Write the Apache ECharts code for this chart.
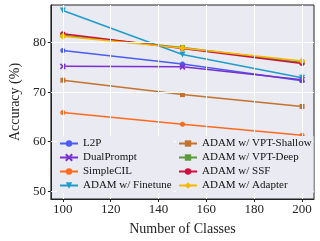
<!DOCTYPE html>
<html>
<head>
<meta charset="utf-8">
<script src="https://cdn.jsdelivr.net/npm/echarts@6/dist/echarts.min.js"></script>
<style>
html, body { margin: 0; padding: 0; background: #fff; }
#chart { width: 320px; height: 241px; }
</style>
</head>
<body>
<div id="chart"></div>
<script>
// number of classes
const classes = [100, 150, 200]
const xTicks = [100, 120, 140, 160, 180, 200]
const yTicks = [50, 60, 70, 80]

// accuracy (%) per method
const l2p = [78.4, 75.7, 72.3]
const dualPrompt = [75.2, 75.1, 72.5]
const simpleCIL = [65.9, 63.5, 61.3]
const finetune = [86.5, 77.6, 72.9]
const vptShallow = [72.4, 69.5, 67.1]
const vptDeep = [81.5, 79.0, 76.0]
const ssf = [81.8, 78.8, 75.8]
const adapter = [81.3, 78.9, 76.3]

const chart = echarts.init(document.getElementById('chart'))

const serif = 'Liberation Serif'

function line(name, values, color, symbol, size) {
    return {
        name: name,
        type: 'line',
        z: 3,
        data: classes.map((c, i) => [c, values[i]]),
        symbol: symbol,
        symbolSize: size || 5,
        lineStyle: { color: color, width: 1.5 },
        itemStyle: { color: color },
        emphasis: { disabled: true }
    }
}

const series = [
    // white grid lines drawn through the axes
    {
        type: 'line',
        data: [],
        z: 1,
        silent: true,
        markLine: {
            silent: true,
            symbol: 'none',
            label: { show: false },
            lineStyle: { color: '#ffffff', type: 'solid', width: 1 },
            data: xTicks.map(v => ({ xAxis: v })).concat(yTicks.map(v => ({ yAxis: v })))
        }
    },
    line('L2P', l2p, '#4a5df0', 'circle'),
    line('DualPrompt', dualPrompt, '#7a2fcf', 'path://M0,0L2,2M2,0L0,2', 5),
    line('SimpleCIL', simpleCIL, '#ff6a1c', 'circle'),
    line('ADAM w/ Finetune', finetune, '#1f9ccc', 'triangle', 6),
    line('ADAM w/ VPT-Shallow', vptShallow, '#c4732f', 'rect', 5),
    line('ADAM w/ VPT-Deep', vptDeep, '#5a9a3a', 'rect', 5),
    line('ADAM w/ SSF', ssf, '#d0103c', 'circle'),
    line('ADAM w/ Adapter', adapter, '#f6b800', 'diamond', 7)
]
// down-pointing triangle for finetune
series[4].symbolRotate = 180
// x marker needs a stroke
series[2].itemStyle = { color: '#7a2fcf', borderColor: '#7a2fcf', borderWidth: 1.5 }

const legendCommon = {
    orient: 'vertical',
    itemWidth: 18,
    itemHeight: 8,
    itemGap: 3,
    textStyle: { fontFamily: serif, fontSize: 11, color: '#111' },
    backgroundColor: '#eaeaf2',
    padding: 2,
    z: 10
}

const option = {
    animation: false,
    backgroundColor: '#ffffff',
    grid: {
        left: 50, right: 6, top: 5, bottom: 40,
        show: true,
        backgroundColor: '#eaeaf2',
        borderColor: '#222',
        borderWidth: 1
    },
    legend: [
        Object.assign({}, legendCommon, {
            left: 57, top: 136,
            data: ['L2P', 'DualPrompt', 'SimpleCIL', 'ADAM w/ Finetune']
        }),
        Object.assign({}, legendCommon, {
            left: 176, top: 136,
            data: ['ADAM w/ VPT-Shallow', 'ADAM w/ VPT-Deep', 'ADAM w/ SSF', 'ADAM w/ Adapter']
        })
    ],
    xAxis: {
        type: 'value',
        min: 95,
        max: 205,
        name: 'Number of Classes',
        nameLocation: 'middle',
        nameGap: 23,
        nameTextStyle: { fontFamily: serif, fontSize: 14, color: '#222' },
        axisLine: { show: true, lineStyle: { color: '#222' } },
        axisTick: { show: true, customValues: xTicks, length: 3, lineStyle: { color: '#222' } },
        axisLabel: { customValues: xTicks, fontFamily: serif, fontSize: 13, color: '#222', margin: 4 },
        splitLine: { show: false }
    },
    yAxis: {
        type: 'value',
        min: 48.4,
        max: 87.6,
        name: 'Accuracy (%)',
        nameLocation: 'middle',
        nameGap: 27,
        nameTextStyle: { fontFamily: serif, fontSize: 14, color: '#222' },
        axisLine: { show: true, lineStyle: { color: '#222' } },
        axisTick: { show: true, customValues: yTicks, length: 3, lineStyle: { color: '#222' } },
        axisLabel: { customValues: yTicks, fontFamily: serif, fontSize: 13, color: '#222', margin: 5 },
        splitLine: { show: false }
    },
    series: series
}

chart.setOption(option)
</script>
</body>
</html>
